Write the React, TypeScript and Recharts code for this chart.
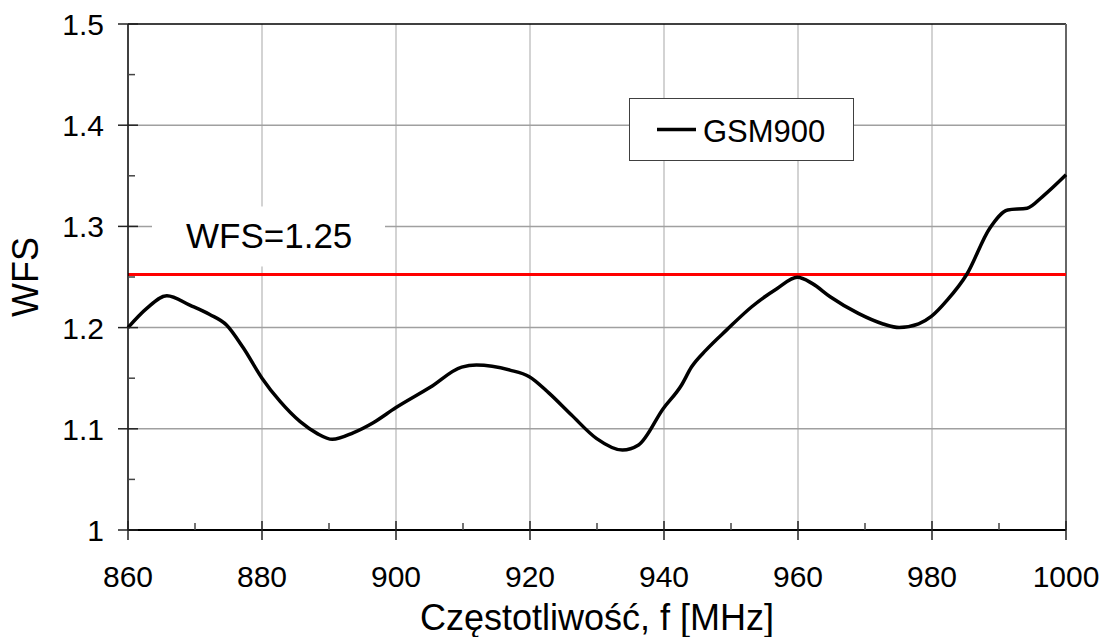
import { LineChart, Line, XAxis, YAxis, CartesianGrid, ReferenceLine } from 'recharts';

const freq = [
  860, 862.8, 865.8, 869.3, 872.2, 874.7, 877.2, 880, 882.7, 885.7, 888.2, 890.5, 893.6, 896.6,
  900, 905.1, 909.8, 912, 917, 919.9, 922.8, 926.2, 929.9, 933.8, 936.2, 939.9, 942.6, 944.1,
  946.3, 949.4, 953.1, 956.9, 959.9, 962.1, 964.8, 969, 972.7, 975.1, 978, 979.9, 982.3, 985.2,
  988.6, 991.3, 994.2, 996.5, 1000,
];
const wfs = [
  1.2, 1.219, 1.2315, 1.222, 1.213, 1.2026, 1.18, 1.15, 1.127, 1.107, 1.0955, 1.0896, 1.096, 1.106,
  1.121, 1.141, 1.161, 1.163, 1.158, 1.1515, 1.1355, 1.1136, 1.0906, 1.079, 1.084, 1.12, 1.143, 1.161,
  1.178, 1.198, 1.2206, 1.2387, 1.2497, 1.2437, 1.2305, 1.214, 1.2036, 1.2, 1.2036, 1.211, 1.2273, 1.2527,
  1.298, 1.3162, 1.318, 1.3295, 1.351,
];

const threshold = 1.2525;
const thresholdText = 'WFS=1.25';
const seriesName = 'GSM900';

const xTicks = [860, 870, 880, 890, 900, 910, 920, 930, 940, 950, 960, 970, 980, 990, 1000];
const yTicks = [1, 1.05, 1.1, 1.15, 1.2, 1.25, 1.3, 1.35, 1.4, 1.45, 1.5];
const xGrid = [880, 900, 920, 940, 960, 980];
const yGrid = [1.1, 1.2, 1.3, 1.4];

const data = freq.map((f, i) => ({ f, wfs: wfs[i] }));

const FONT = '"Liberation Sans", Arial, sans-serif';

function XTick({ x, y, payload }: any) {
  const v = payload.value;
  const major = v % 20 === 0;
  return (
    <g>
      {major ? (
        <line x1={x} x2={x} y1={y - 9} y2={y + 10} stroke="#222" strokeWidth={1.5} />
      ) : (
        <line x1={x} x2={x} y1={y - 7} y2={y} stroke="#444" strokeWidth={1.5} />
      )}
      {major && (
        <text x={x} y={y + 57} textAnchor="middle" fontSize={30} fontFamily={FONT} fill="#000">
          {v}
        </text>
      )}
    </g>
  );
}

function YTick({ x, y, payload }: any) {
  const v = payload.value;
  const major = Math.round(v * 100) % 10 === 0;
  return (
    <g>
      {major ? (
        <line x1={x - 10} x2={x + 10} y1={y} y2={y} stroke="#222" strokeWidth={1.5} />
      ) : (
        <line x1={x} x2={x + 7} y1={y} y2={y} stroke="#444" strokeWidth={1.5} />
      )}
      {major && (
        <text x={x - 24} y={y + 11} textAnchor="end" fontSize={30} fontFamily={FONT} fill="#000">
          {String(Math.round(v * 10) / 10)}
        </text>
      )}
    </g>
  );
}

function ThresholdLabel({ viewBox }: any) {
  const { x, y } = viewBox;
  return (
    <g>
      <rect x={x + 24} y={y - 68} width={233} height={60} fill="#fff" />
      <text x={x + 58} y={y - 26} fontSize={35} fontFamily={FONT} fill="#000">
        {thresholdText}
      </text>
    </g>
  );
}

function YTitle({ viewBox }: any) {
  const cx = viewBox.x + 38;
  const cy = viewBox.y + viewBox.height / 2;
  return (
    <text x={cx} y={cy} transform={`rotate(-90 ${cx} ${cy})`} textAnchor="middle" fontSize={36} fontFamily={FONT} fill="#000">
      WFS
    </text>
  );
}

function XTitle({ viewBox }: any) {
  return (
    <text x={viewBox.x + viewBox.width / 2} y={viewBox.y + 100} textAnchor="middle" fontSize={36} fontFamily={FONT} fill="#000">
      Częstotliwość, f [MHz]
    </text>
  );
}

function LegendBox() {
  return (
    <svg width={226} height={64} style={{ position: 'absolute', left: 629, top: 98 }}>
      <rect x={0.5} y={0.5} width={224} height={62} fill="#fff" stroke="#404040" strokeWidth={1} />
      <line x1={28} x2={67} y1={31.5} y2={31.5} stroke="#000" strokeWidth={3.5} />
      <text x={74} y={44} fontSize={31} fontFamily={FONT} fill="#000">
        {seriesName}
      </text>
    </svg>
  );
}

export default function App() {
  return (
    <div style={{ position: 'relative', width: 1107, height: 637, background: '#fff' }}>
      <style>{'body{margin:0}'}</style>
      <LineChart width={1107} height={637} data={data} margin={{ top: 24, right: 41, left: 0, bottom: 0 }}>
        <CartesianGrid horizontal={false} verticalValues={xGrid} stroke="#c4c4c4" strokeWidth={1.5} />
        <CartesianGrid vertical={false} horizontalValues={yGrid} stroke="#a0a0a0" strokeWidth={1.5} />
        <XAxis
          dataKey="f"
          type="number"
          domain={[860, 1000]}
          ticks={xTicks}
          interval={0}
          height={107}
          tickSize={0}
          tickMargin={0}
          tickLine={false}
          tick={<XTick />}
          axisLine={{ stroke: '#000', strokeWidth: 2 }}
          label={<XTitle />}
        />
        <YAxis
          type="number"
          domain={[1, 1.5]}
          ticks={yTicks}
          interval={0}
          width={128}
          tickSize={0}
          tickMargin={0}
          tickLine={false}
          tick={<YTick />}
          axisLine={{ stroke: '#000', strokeWidth: 1.5 }}
          label={<YTitle />}
        />
        <ReferenceLine y={1.5} stroke="#000" strokeWidth={1.5} />
        <ReferenceLine x={1000} stroke="#666" strokeWidth={2} />
        <ReferenceLine y={threshold} stroke="#ff0000" strokeWidth={3} label={<ThresholdLabel />} />
        <Line
          type="monotone"
          dataKey="wfs"
          name={seriesName}
          stroke="#000"
          strokeWidth={3.5}
          dot={false}
          isAnimationActive={false}
        />
      </LineChart>
      <LegendBox />
    </div>
  );
}
